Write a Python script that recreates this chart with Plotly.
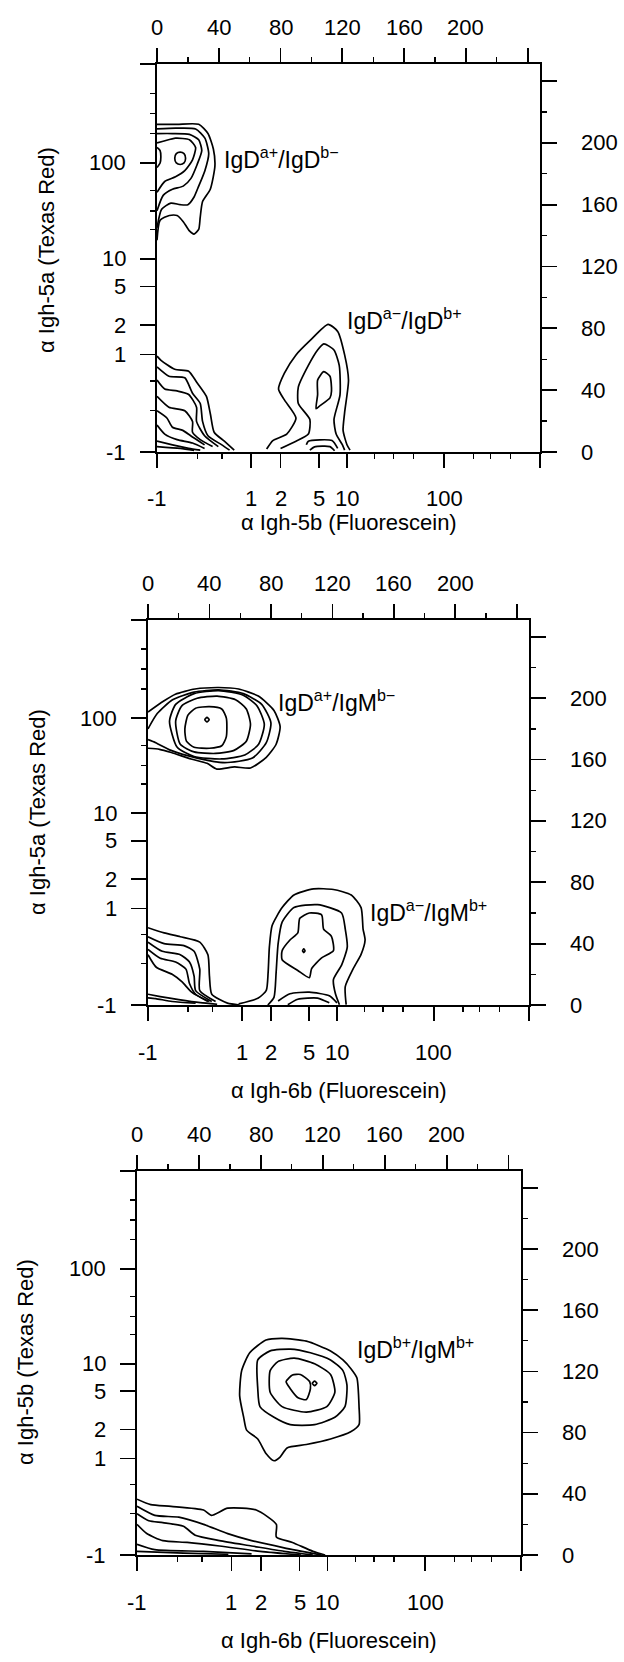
import plotly.graph_objects as go

W, H = 624, 1662
FONT = "Liberation Sans, Arial, sans-serif"

# ---------------- axis tick data (channel units 0..255) ----------------
X_LOG_LABELS = ["-1", "1", "2", "5", "10", "100"]
X_LOG_CH = [0, 61, 80, 105, 123, 186]
Y_LOG_LABELS = ["-1", "1", "2", "5", "10", "100"]
Y_LOG_CH = [0, 63, 82, 107, 125, 187]
X_MINOR_CH = [26, 42, 141, 153, 166, 205, 216, 229]
Y_MINOR_CH = [27, 46, 144, 156, 169, 206, 219, 232]
CH_TICKS = [0, 40, 80, 120, 160, 200, 240]
CH_LABELS = ["0", "40", "80", "120", "160", "200"]
X_RANGE = [0, 248]
Y_RANGE = [0, 251]

# ---------------- panel 1 contours (channel coords) ----------------
P1_POP_A = [
    [(0,137),(2,150),(8,153),(13,153),(17,149),(21,143),(24,141),(27,144),(28,152),(29.5,162),(34.5,170),(37.5,185),(36.5,196),(33,206),(27,212),(13,212),(0,212)],
    [(0,145),(3,157),(9,161),(15,160),(20,160),(24,165),(27,172),(31,182),(33.5,193),(31,203),(25,209),(12,209.5),(0,209)],
    [(0,156),(4,166),(10,170),(17,172),(22,177),(26,186),(29,195),(27,202),(21,205.5),(10,206),(0,206)],
    [(0,168),(5,175),(12,178),(18,182),(23,189),(25,197),(21,202),(12,203),(4,201),(0,200)],
    [(11.5,190),(12.5,193),(15,194),(17.5,193),(18.5,190),(17.5,187),(15,186),(12.5,187),(11.5,190)],
    [(0,184),(2,187),(2.5,191),(2,195),(0,197)],
]
P1_POP_B = [
    [(0,62),(2.6,59.3),(11.5,53.5),(20.5,52.3),(25.6,45.3),(32,36),(34.6,24.4),(37,12.8),(43.6,7),(50,1.2)],
    [(0,55),(7.7,49),(18,48),(23,38),(28,31.4),(29.5,19.8),(33,10.5),(42,4.6),(47,1.2)],
    [(0,46.5),(5,40.7),(13,39.5),(20.5,37.2),(25.6,29),(25.6,19.8),(30.8,10.5),(39.7,3.5)],
    [(0,36),(7.7,29),(18,26.7),(23,19.8),(23,12.8),(28,8),(36,3.5)],
    [(0,26.7),(6.4,22),(10,16),(16.7,14),(21.8,10.5),(30.8,4.6)],
    [(0,17.4),(5,11.6),(13,8),(23,5.8),(30.8,2.3)],
    [(0,7),(10,4.6),(20.5,2.3),(28,1.2)],
    [(0,3.5),(15,2.3),(24,1)],
]
P1_POP_C = [
    [(71,1.9),(75,7.4),(84,11.6),(90,22),(82.5,33.7),(78.7,40.7),(82.5,51),(90,62.8),(99,72),(110.8,82.6),(117,78),(121.5,62.8),(124,46.5),(121.5,25.6),(120.5,14),(123,4.7),(125,1.2)],
    [(80,2.3),(90,7),(98,11.6),(99,21),(91.5,31.4),(91.5,42),(98,56),(104,66),(108,70),(114.6,66),(118,56),(118.5,37),(114.6,21),(116,11.6),(120,4.7),(121.5,1.2)],
    [(108,52),(112,49),(113,39.5),(112,35),(105.6,30),(103,28),(104,37),(104,46.5),(108,52)],
    [(96.7,4.7),(98,7),(113.3,7.4),(117,2.3)],
    [(99,1.2),(102,3.3),(112,3.5),(115,0.8)],
]
P1_LABELS = ["IgD<sup>a+</sup>/IgD<sup>b\u2212</sup>", "IgD<sup>a\u2212</sup>/IgD<sup>b+</sup>"]
P1_LABEL_X = [42, 122]
P1_LABEL_Y = [190, 86]

# ---------------- panel 2 ----------------
P2_POP_A = [
    [(0,191),(10,198),(17.8,202.6),(30.6,206),(46,207),(59,206),(71.8,201.4),(82,192),(86,181.5),(83.4,170),(77,161.5),(66.7,154.5),(56.4,155.2),(44.8,153.8),(38.4,157.6),(28,160.4),(15.2,164.6),(7.5,166.7),(0,167.4)],
    [(0,180),(6,190),(16,199),(30,204),(46,205.5),(62,203),(74,196),(80,184),(77,171),(68,161),(50,158),(32,161),(15,166),(5,171),(0,173)],
    [(14,185),(18,196),(30,203),(46,205),(62,202),(71,195),(75.7,183),(72,170),(63,163),(48,160.4),(30,162),(19,168),(14,185)],
    [(18,185),(22,195),(32,200),(45,201.4),(57,199),(64,193),(66.7,183),(64,172),(56,166),(44,164),(30,165),(21,170),(18,185)],
    [(24,180),(26,189),(31,193.5),(40,194.5),(48,193),(51,187),(51,175),(48,169),(40,167.4),(30,168),(25,172),(24,180)],
    [(37,186),(38.4,187.5),(39.8,186),(38.4,184.5),(37,186)],
]
P2_POP_B = [
    [(0,50.4),(10.5,47),(21,44.5),(33.7,41),(39,32.8),(40,18.8),(41.5,7),(51.7,1.2),(59.5,0)],
    [(0,44.5),(10.5,40),(23.4,38.7),(30,35),(33.7,23.4),(33.7,9.4),(44,2.3)],
    [(0,41),(9.3,35),(21,32.8),(27,28),(30,18.8),(31,9.4),(41.5,2.3)],
    [(0,36.3),(8,30.5),(18,28),(24.7,23.4),(27,14),(31,7),(40,2.3)],
    [(0,32.8),(5.4,24.6),(15.7,20),(22,15.2),(28.6,8.2),(39,2.3)],
    [(0,7),(8,5.5),(20,3.5),(34,1.5),(45,0.5)],
    [(0,4.7),(5,4.2),(15.7,2.3),(31,1.2)],
]
P2_POP_C = [
    [(59,0.7),(71.8,4.5),(77,9.6),(78.2,21.3),(79,37.7),(80.8,51.8),(87.3,63.5),(95,71.7),(107.8,75.7),(120.7,75.3),(132.3,71.7),(138.7,63.5),(140,49.5),(141.3,42.4),(138.7,33),(133.6,23.7),(128.4,12),(129,0.2)],
    [(78,0),(82,5),(83.4,21.3),(84.7,40),(87.3,54),(95,63.5),(110.4,65.4),(126,60),(128.4,49.5),(129.7,37.7),(126,26),(120.7,16.6),(122,7.3),(124.6,0.2)],
    [(87.3,29.5),(97.5,22.5),(105,17.8),(106.5,23.7),(113,30.7),(120.7,35.4),(119.4,44.8),(114.3,49.5),(113,58.8),(105,60),(98.8,56.5),(97.5,47),(92.4,42.4),(87.3,35.4),(87.3,29.5)],
    [(100.6,35.4),(101.4,36.6),(102.2,35.4),(101.4,34.2),(100.6,35.4)],
    [(84.7,2.6),(92.4,7.3),(105,8.4),(118,6),(123,1.4)],
    [(91,0.2),(97.5,3.75),(110.4,4.5),(118,1.4)],
]
P2_LABELS = ["IgD<sup>a+</sup>/IgM<sup>b\u2212</sup>", "IgD<sup>a\u2212</sup>/IgM<sup>b+</sup>"]
P2_LABEL_X = [83, 143]
P2_LABEL_Y = [198, 61]

# ---------------- panel 3 ----------------
P3_POP_A = [
    [(93.7,141.6),(83.3,140.5),(72.8,132.2),(67.6,120.5),(66.3,104),(68.9,90),(70.8,81.6),(78,75.8),(83.3,66.4),(88.5,61.6),(92.4,64),(96.9,70),(109.4,72.2),(125,75.8),(138,80.5),(143.4,85.2),(143.4,97),(142,115.8),(138.3,121.6),(133,127.5),(125,133.4),(109.4,139.8),(93.7,141.6)],
    [(86,133.4),(78,127.5),(78,108.7),(79.4,97),(88.5,90),(99,85.2),(114.7,85.2),(127.8,90),(134.3,97),(135.6,111),(133,120.5),(125,127.5),(112,132.2),(99,134.6),(86,133.4)],
    [(91,126.4),(86,120.5),(86,106.4),(93.7,97),(109.4,93.4),(122.6,97),(127.8,106.4),(125,118),(114.7,125),(101.6,128.7),(91,126.4)],
    [(100.4,117.6),(96.3,113.4),(99,108.7),(104,102.8),(109.4,101.6),(112,108.7),(111.5,113.4),(105.5,118),(100.4,117.6)],
    [(113.2,112.2),(114.7,113.7),(116.2,112.2),(114.7,110.7),(113.2,112.2)],
]
P3_POP_B = [
    [(0,36.5),(8.9,32.9),(22,31.8),(43,29.4),(48,25.9),(58.6,30.6),(77,29.4),(90,20),(90,11.8),(100.4,8.2),(113.6,2.4),(121.5,0)],
    [(0,31.8),(11.5,25.9),(27,24.7),(43,20),(58.6,14),(74,9.4),(95,4.7),(119,0)],
    [(0,27),(7.6,22.4),(16.7,21.2),(30,18.8),(37.6,12.9),(53.3,9.4),(74,5.9),(95,2.4),(113.6,0)],
    [(0,20),(6.3,14),(16.7,9.4),(32.4,8.2),(53.3,5.9),(79.5,2.4),(106,0)],
    [(0,7),(11.5,3.5),(43,2.4),(74,0.7)],
    [(0,2.4),(30,1.2),(59,0.5)],
]
P3_LABELS = ["IgD<sup>b+</sup>/IgM<sup>b+</sup>"]
P3_LABEL_X = [141]
P3_LABEL_Y = [135]

# ---------------- titles ----------------
X_TITLES = ["\u03b1 Igh-5b (Fluorescein)", "\u03b1 Igh-6b (Fluorescein)", "\u03b1 Igh-6b (Fluorescein)"]
Y_TITLES = ["\u03b1 Igh-5a (Texas Red)", "\u03b1 Igh-5a (Texas Red)", "\u03b1 Igh-5b (Texas Red)"]

# ---------------- layout geometry (pixels) ----------------
PANEL_BOX = [(157, 540, 64, 452), (148, 529, 620, 1005), (137, 521, 1171, 1555)]
XTITLE_Y = [523, 1090, 1640]
YTITLE_X = [46, 37, 25]
YTITLE_Y = [250, 812, 1362]
TICK_FS = 22

PANELS = [
    (P1_POP_A + P1_POP_B + P1_POP_C, P1_LABELS, P1_LABEL_X, P1_LABEL_Y),
    (P2_POP_A + P2_POP_B + P2_POP_C, P2_LABELS, P2_LABEL_X, P2_LABEL_Y),
    (P3_POP_A + P3_POP_B, P3_LABELS, P3_LABEL_X, P3_LABEL_Y),
]


def nm(prefix, n):
    return prefix if n == 1 else f"{prefix}{n}"


fig = go.Figure()
layout = dict(
    width=W, height=H, margin=dict(l=0, r=0, t=0, b=0),
    paper_bgcolor="white", plot_bgcolor="white", showlegend=False,
    font=dict(family=FONT, color="black"),
)
annotations = []
common = dict(showgrid=False, zeroline=False, showline=True, linewidth=2.2,
              linecolor="black", ticks="outside", tickwidth=1.7, tickcolor="black",
              showticklabels=False, fixedrange=True)
minor_style = dict(ticks="outside", ticklen=5, tickwidth=1.3, tickcolor="black")


def tick_ann(text, x, y, xref, yref, xanchor):
    return dict(text=text, x=x, y=y, xref=xref, yref=yref, xanchor=xanchor,
                yanchor="middle", showarrow=False,
                font=dict(family=FONT, size=TICK_FS, color="black"))


for k, (contours, labels, lx, ly) in enumerate(PANELS):
    L, R, T, B = PANEL_BOX[k]
    nb, nt = 2 * k + 1, 2 * k + 2
    xb, xt, yb, yt = nm("x", nb), nm("x", nt), nm("y", nb), nm("y", nt)
    layout[nm("xaxis", nb)] = dict(common, domain=[L / W, R / W], anchor=yb, range=X_RANGE,
        tickmode="array", tickvals=X_LOG_CH + [X_RANGE[1]], ticklen=14,
        minor=dict(minor_style, tickmode="array", tickvals=X_MINOR_CH))
    layout[nm("xaxis", nt)] = dict(common, overlaying=xb, side="top", anchor=yb, range=X_RANGE,
        tickmode="array", tickvals=CH_TICKS, ticklen=14,
        minor=dict(minor_style, tick0=0, dtick=20))
    layout[nm("yaxis", nb)] = dict(common, domain=[1 - B / H, 1 - T / H], anchor=xb, range=Y_RANGE,
        tickmode="array", tickvals=Y_LOG_CH + [Y_RANGE[1]], ticklen=15,
        minor=dict(minor_style, tickmode="array", tickvals=Y_MINOR_CH))
    layout[nm("yaxis", nt)] = dict(common, overlaying=yb, side="right", anchor=xb, range=Y_RANGE,
        tickmode="array", tickvals=CH_TICKS, ticklen=15,
        minor=dict(minor_style, tick0=0, dtick=20))

    for c in contours:
        fig.add_trace(go.Scatter(
            x=[p[0] for p in c], y=[p[1] for p in c], mode="lines",
            line=dict(color="black", width=1.7, shape="spline", smoothing=0.6),
            xaxis=xb, yaxis=yb, hoverinfo="skip", showlegend=False))
    # invisible trace so that the top/right channel axes render
    fig.add_trace(go.Scatter(x=[X_RANGE[0]], y=[Y_RANGE[0]], mode="markers",
                             marker=dict(size=1, opacity=0), xaxis=xt, yaxis=yt,
                             hoverinfo="skip", showlegend=False))

    # tick labels (placed as text next to the axis ticks)
    for t, v in zip(X_LOG_LABELS, X_LOG_CH):
        annotations.append(tick_ann(t, v, 1 - (B + 47) / H, xb, "paper", "center"))
    for t, v in zip(CH_LABELS, CH_TICKS):
        annotations.append(tick_ann(t, v, 1 - (T - 37) / H, xt, "paper", "center"))
    for t, v in zip(Y_LOG_LABELS, Y_LOG_CH):
        annotations.append(tick_ann(t, (L - 29) / W, v, "paper", yb, "right"))
    for t, v in zip(CH_LABELS, CH_TICKS):
        annotations.append(tick_ann(t, (R + 39) / W, v, "paper", yt, "left"))

    for t, x, y in zip(labels, lx, ly):
        annotations.append(dict(text=t, x=x, y=y, xref=xb, yref=yb, xanchor="left",
                                yanchor="middle", showarrow=False,
                                font=dict(family=FONT, size=23, color="black")))
    annotations.append(dict(text=X_TITLES[k], x=(L + R) / 2 / W, y=1 - XTITLE_Y[k] / H,
                            xref="paper", yref="paper", xanchor="center", yanchor="middle",
                            showarrow=False, font=dict(family=FONT, size=22, color="black")))
    annotations.append(dict(text=Y_TITLES[k], x=YTITLE_X[k] / W, y=1 - YTITLE_Y[k] / H,
                            xref="paper", yref="paper", xanchor="center", yanchor="middle",
                            textangle=-90, showarrow=False,
                            font=dict(family=FONT, size=22, color="black")))

layout["annotations"] = annotations
fig.update_layout(**layout)
fig.write_html("out.html", config={"displayModeBar": False, "staticPlot": True},
               post_script="document.body.style.margin='0';document.body.style.overflow='hidden';")
